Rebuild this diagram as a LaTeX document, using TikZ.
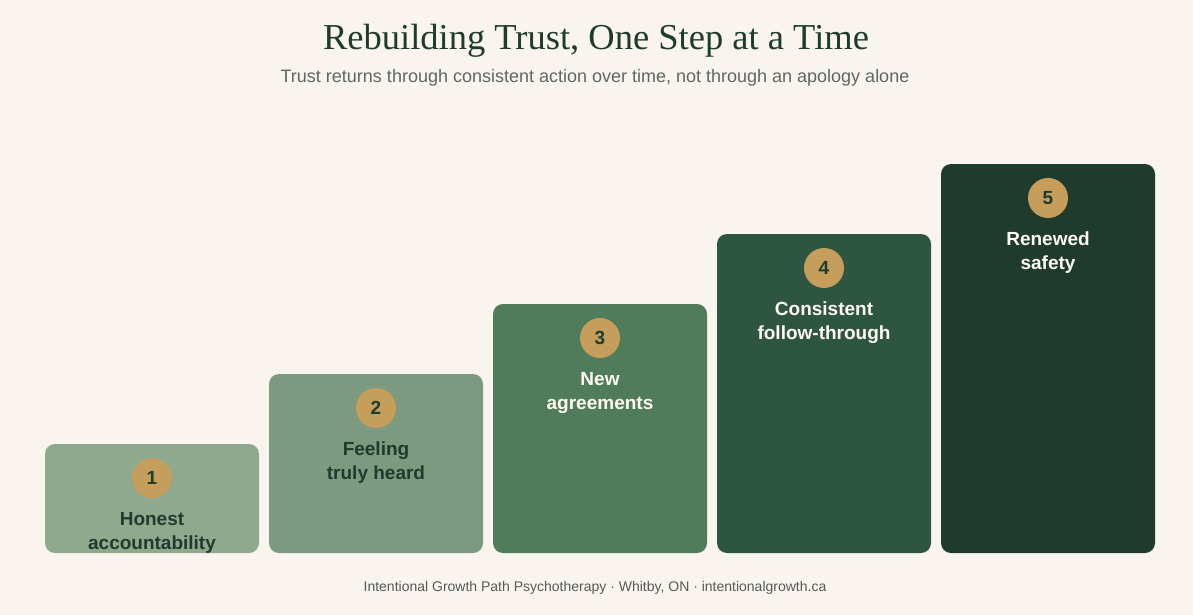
\documentclass[tikz,border=0pt]{standalone}
\usepackage{fontspec}
\setmainfont{Liberation Sans}
\newfontfamily\titlefont{Liberation Serif}
\definecolor{bg}{HTML}{F9F5EE}
\definecolor{dkgreen}{HTML}{1F3B2D}
\definecolor{cA}{HTML}{8FA98F}
\definecolor{cB}{HTML}{7B9A7F}
\definecolor{cC}{HTML}{507C5C}
\definecolor{cD}{HTML}{2E5540}
\definecolor{cE}{HTML}{1F3B2D}
\definecolor{gold}{HTML}{C49E5A}
\definecolor{subgray}{HTML}{5F6664}
\definecolor{footgray}{HTML}{555A58}
\definecolor{cream}{HTML}{FFFBF2}
\tikzset{
  stepbox/.style={rounded corners=10pt, draw=none},
  badge/.style={circle, fill=gold, minimum size=40pt, inner sep=0pt, font=\fontsize{19}{20}\selectfont\bfseries, text=dkgreen},
  steplabel/.style={align=center, font=\fontsize{19}{24}\selectfont\bfseries, inner sep=0pt},
}
\begin{document}
\begin{tikzpicture}[x=1pt,y=-1pt]
\fill[bg] (0,0) rectangle (1193,615);
\useasboundingbox (0,0) rectangle (1193,615);
\node[font=\titlefont\fontsize{36.5}{40}\selectfont, text=dkgreen] (title) at (596,41) {Rebuilding Trust, One Step at a Time};
\node[font=\fontsize{18}{21}\selectfont, text=subgray] (subtitle) at (595,78) {Trust returns through consistent action over time, not through an apology alone};
% boxes
\fill[cA, stepbox] (45,444) rectangle (259,553);
\fill[cB, stepbox] (269,374) rectangle (483,553);
\fill[cC, stepbox] (493,304) rectangle (707,553);
\fill[cD, stepbox] (717,234) rectangle (931,553);
\fill[cE, stepbox] (941,164) rectangle (1155,553);
\coordinate (b1) at (152,444);
\coordinate (b2) at (376,374);
\coordinate (b3) at (600,304);
\coordinate (b4) at (824,234);
\coordinate (b5) at (1048,164);
\node[badge] (n1) at ([yshift=-34pt]b1) {1};
\node[badge] (n2) at ([yshift=-34pt]b2) {2};
\node[badge] (n3) at ([yshift=-34pt]b3) {3};
\node[badge] (n4) at ([yshift=-34pt]b4) {4};
\node[badge] (n5) at ([yshift=-34pt]b5) {5};
\begin{scope}
\clip[stepbox] (45,444) rectangle (259,553);
\node[steplabel, text=dkgreen] (t1) at ([yshift=-89pt]b1) {Honest\\accountability};
\end{scope}
\node[steplabel, text=dkgreen] (t2) at ([yshift=-89pt]b2) {Feeling\\truly heard};
\node[steplabel, text=cream] (t3) at ([yshift=-89pt]b3) {New\\agreements};
\node[steplabel, text=cream] (t4) at ([yshift=-89pt]b4) {Consistent\\follow-through};
\node[steplabel, text=cream] (t5) at ([yshift=-89pt]b5) {Renewed\\safety};
\node[font=\fontsize{14}{16}\selectfont, text=footgray] (footer) at (595,588) {Intentional Growth Path Psychotherapy · Whitby, ON · intentionalgrowth.ca};
\end{tikzpicture}
\end{document}
